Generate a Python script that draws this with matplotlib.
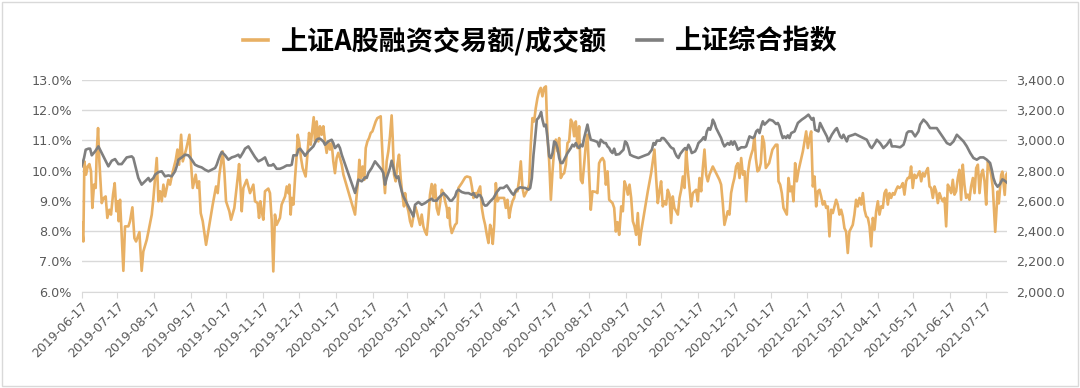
import matplotlib
matplotlib.use("Agg")
import matplotlib.pyplot as plt
import matplotlib.dates as mdates
from matplotlib.font_manager import FontProperties
from matplotlib.patches import Rectangle
from matplotlib.lines import Line2D
from matplotlib.ticker import FuncFormatter, FixedLocator
import pandas as pd

# 数据: 距 2019-06-17 的天数 + 数值
start = pd.Timestamp("2019-06-17")

margin_day = [
    0, 1.5, 2.4, 3.8, 5.2, 6.6, 8.0, 9.1, 10.5, 11.9,
    12.8, 13.9, 15.0, 17.0, 18.7, 20.3, 21.7, 23.4, 24.8, 26.5,
    27.9, 29.3, 30.4, 31.3, 32.4, 33.8, 35.2, 36.6, 39.4, 40.8,
    42.8, 44.5, 45.9, 48.7, 50.6, 52.0, 54.9, 56.3, 59.1, 60.5,
    61.9, 63.3, 64.7, 66.1, 67.5, 68.9, 70.3, 73.1, 74.5, 76.5,
    79.3, 80.7, 82.1, 83.8, 85.2, 88.0, 90.8, 92.2, 93.6, 96.1,
    97.5, 98.9, 100.3, 102.0, 104.8, 107.6, 110.4, 113.2, 114.6, 116.0,
    118.8, 120.2, 121.6, 124.4, 125.8, 128.6, 131.4, 132.6, 134.0, 134.8,
    136.2, 139.0, 141.8, 144.6, 146.0, 148.2, 149.4, 150.5, 151.6, 153.0,
    154.4, 157.2, 158.6, 160.0, 161.4, 162.8, 164.2, 167.0, 168.4, 171.3,
    172.7, 174.1, 174.9, 176.0, 176.9, 178.3, 179.7, 181.1, 181.9, 183.3,
    184.7, 186.1, 188.6, 190.1, 191.5, 192.9, 194.3, 195.4, 196.5, 197.9,
    199.3, 200.7, 202.1, 203.5, 204.9, 206.3, 207.7, 209.1, 210.5, 211.9,
    213.3, 214.7, 216.1, 217.5, 219.0, 220.4, 230.2, 231.6, 233.0, 233.8,
    235.2, 236.6, 238.0, 239.2, 240.6, 242.0, 243.4, 244.8, 247.6, 249.0,
    251.8, 252.6, 254.0, 255.4, 256.8, 258.2, 259.6, 261.0, 261.9, 263.0,
    264.4, 265.8, 267.2, 268.6, 270.0, 271.4, 272.3, 273.7, 275.1, 276.5,
    277.9, 279.3, 280.7, 282.1, 283.5, 284.9, 286.3, 287.7, 289.1, 290.5,
    291.9, 293.3, 294.7, 296.1, 297.5, 298.9, 300.4, 301.8, 303.2, 304.6,
    306.0, 307.4, 308.3, 309.4, 310.2, 311.6, 314.4, 315.8, 317.2, 320.0,
    322.9, 324.3, 327.1, 328.5, 329.9, 331.3, 332.7, 335.5, 336.9, 338.3,
    339.7, 341.1, 342.5, 343.9, 345.3, 346.1, 347.3, 348.7, 350.1, 351.5,
    354.3, 355.7, 357.1, 358.5, 359.9, 361.3, 362.7, 364.1, 365.5, 366.9,
    368.3, 369.7, 371.1, 372.5, 373.9, 375.3, 376.7, 378.1, 379.5, 380.9,
    382.3, 383.7, 385.1, 386.5, 387.9, 389.3, 390.8, 392.2, 393.6, 395.0,
    396.4, 397.8, 399.2, 400.6, 402.0, 403.4, 404.8, 406.2, 407.6, 409.0,
    410.4, 411.8, 413.2, 414.6, 416.0, 417.4, 418.8, 420.2, 421.6, 423.0,
    424.4, 425.8, 427.2, 428.6, 430.0, 432.8, 434.2, 435.6, 437.0, 438.5,
    439.9, 441.3, 442.7, 444.1, 446.9, 448.3, 449.7, 451.1, 452.5, 454.2,
    455.6, 457.0, 458.4, 459.8, 461.2, 462.6, 464.0, 465.4, 466.8, 468.2,
    469.6, 471.0, 473.8, 476.6, 479.4, 482.2, 483.6, 485.0, 486.4, 487.8,
    489.2, 490.6, 492.0, 493.4, 494.8, 496.2, 497.6, 499.0, 501.9, 503.3,
    504.7, 506.1, 507.5, 508.9, 510.3, 511.7, 513.1, 514.5, 517.3, 518.7,
    520.1, 521.5, 522.9, 524.3, 525.7, 527.1, 528.5, 531.3, 534.1, 536.9,
    538.3, 539.7, 541.1, 542.5, 543.9, 545.3, 546.7, 548.1, 549.5, 550.9,
    552.4, 553.8, 555.2, 556.6, 558.0, 559.4, 560.8, 562.2, 563.6, 565.0,
    566.4, 567.5, 568.9, 570.3, 571.7, 573.1, 574.5, 575.9, 578.7, 581.5,
    584.3, 585.7, 586.6, 588.0, 589.4, 590.8, 592.2, 593.6, 595.0, 596.4,
    597.8, 599.2, 600.6, 602.0, 603.4, 607.1, 609.9, 611.3, 612.7, 614.1,
    615.5, 616.9, 618.3, 619.7, 621.1, 622.5, 623.9, 625.3, 626.7, 628.1,
    629.5, 630.9, 632.3, 633.7, 635.1, 636.5, 637.9, 639.3, 640.7, 642.1,
    643.5, 644.9, 646.3, 649.1, 650.5, 651.9, 653.3, 654.8, 656.2, 657.6,
    659.0, 660.4, 661.8, 663.2, 664.6, 666.0, 667.4, 668.8, 670.2, 671.6,
    673.0, 674.4, 675.8, 677.2, 678.6, 680.0, 681.4, 682.8, 684.2, 685.6,
    687.0, 688.4, 689.8, 691.2, 692.6, 694.0, 695.4, 696.8, 698.2, 699.6,
    701.0, 702.5, 703.9, 705.3, 706.7, 708.1, 709.5, 710.9, 712.3, 713.7,
    715.1, 716.5, 717.9, 719.3, 720.7, 722.1, 723.5, 724.9, 726.3, 727.7,
    729.1, 730.5, 731.9, 733.3, 734.7, 736.1, 737.5, 738.9, 740.3, 741.7,
    743.1, 744.5, 745.9, 747.3, 748.7, 750.2, 751.6, 753.0, 754.4, 755.8,
    757.2, 758.6, 760.0, 761.4, 762.8, 764.2, 765.6, 767.0, 769.0, 771.0,
    772.0, 774.0, 775.0, 777.0, 778.0, 779.0,
]
margin_ratio = [
    8.27, 7.66, 10.31, 9.87, 10.14, 10.22, 9.98, 8.77, 9.54, 9.43,
    10.64, 11.41, 10.31, 8.93, 9.10, 9.15, 8.44, 8.71, 8.55, 9.21,
    9.59, 8.66, 8.99, 8.33, 9.04, 7.88, 6.69, 8.16, 8.16, 8.33,
    8.79, 7.77, 7.66, 7.97, 6.69, 7.33, 7.72, 7.99, 8.55, 9.10,
    9.76, 10.42, 8.99, 9.32, 8.99, 9.54, 9.15, 9.70, 9.54, 9.92,
    10.36, 10.70, 10.20, 11.19, 10.31, 10.70, 11.19, 10.20, 9.43, 9.87,
    9.43, 9.65, 8.60, 8.33, 7.55, 8.21, 8.88, 9.48, 9.26, 9.87,
    10.64, 9.98, 8.99, 8.66, 8.38, 8.77, 9.76, 10.22, 9.32, 8.66,
    9.43, 9.70, 9.26, 9.54, 8.99, 8.93, 8.44, 8.99, 8.66, 8.38,
    9.32, 9.41, 9.26, 8.38, 6.67, 8.55, 8.21, 8.44, 8.88, 9.15,
    9.48, 9.26, 9.54, 8.55, 9.10, 8.88, 9.76, 10.53, 11.19, 10.92,
    10.42, 10.09, 9.81, 10.53, 11.25, 10.86, 11.36, 11.77, 10.97, 11.63,
    10.97, 11.47, 11.19, 11.47, 10.97, 10.59, 10.97, 10.70, 10.92, 10.31,
    9.92, 10.42, 10.59, 10.42, 10.20, 9.87, 8.55, 9.21, 9.76, 10.36,
    9.76, 10.14, 9.70, 10.75, 10.97, 11.08, 11.25, 11.30, 11.63, 11.74,
    11.80, 11.08, 9.98, 9.26, 10.31, 10.64, 11.14, 11.83, 11.08, 9.87,
    9.65, 10.20, 10.53, 9.76, 9.21, 8.82, 9.26, 8.88, 8.66, 8.33,
    8.16, 8.49, 8.82, 8.66, 8.44, 8.21, 8.55, 8.16, 7.99, 7.88,
    8.44, 9.21, 9.56, 9.10, 9.54, 8.77, 8.55, 8.93, 9.37, 9.26,
    8.99, 8.77, 8.44, 8.77, 8.21, 7.94, 8.21, 8.27, 9.43, 9.59,
    9.78, 9.81, 9.78, 9.48, 9.10, 9.26, 9.21, 9.48, 8.77, 8.44,
    8.21, 7.88, 7.61, 8.21, 7.99, 7.58, 8.21, 9.59, 8.99, 9.10,
    9.10, 9.10, 8.77, 9.04, 8.44, 8.77, 8.99, 9.10, 9.37, 9.32,
    9.70, 10.31, 9.43, 9.15, 9.26, 9.37, 9.54, 10.86, 11.74, 11.63,
    12.07, 12.40, 12.63, 12.74, 12.46, 12.74, 12.79, 11.08, 10.31, 9.04,
    9.98, 10.70, 11.03, 10.64, 11.08, 9.76, 9.87, 9.92, 10.20, 10.92,
    10.97, 11.69, 11.58, 11.14, 11.63, 10.75, 11.47, 9.70, 9.59, 10.20,
    10.86, 11.19, 9.87, 8.71, 9.32, 9.30, 9.26, 10.25, 10.36, 10.42,
    10.31, 9.54, 9.98, 9.04, 8.93, 8.77, 7.99, 8.30, 7.88, 8.82,
    8.66, 9.65, 9.48, 9.21, 9.54, 9.10, 8.33, 8.16, 7.88, 8.60,
    7.55, 7.99, 8.66, 9.32, 9.92, 10.70, 9.76, 8.93, 9.32, 9.65,
    8.82, 8.99, 8.88, 9.37, 9.21, 8.27, 9.15, 8.77, 8.55, 9.10,
    9.37, 9.81, 9.43, 10.70, 9.98, 9.43, 8.82, 9.26, 9.37, 8.99,
    9.76, 9.32, 10.09, 10.70, 9.87, 9.65, 9.87, 10.14, 9.92, 9.70,
    9.54, 8.93, 8.21, 8.44, 8.66, 8.55, 9.26, 9.54, 9.76, 10.14,
    10.25, 9.76, 10.42, 9.87, 9.98, 8.99, 9.92, 10.31, 10.53, 10.70,
    11.14, 10.42, 9.98, 10.03, 10.25, 11.14, 10.92, 10.09, 10.25, 10.70,
    10.86, 10.86, 9.65, 9.54, 9.26, 8.77, 8.66, 8.55, 9.76, 9.32,
    9.48, 8.99, 10.25, 9.65, 10.00, 10.64, 11.30, 10.75, 11.08, 11.30,
    9.48, 9.81, 8.82, 9.32, 9.37, 9.15, 8.88, 8.99, 8.77, 8.82,
    7.83, 8.71, 8.60, 8.82, 9.04, 8.88, 8.55, 8.71, 8.49, 8.10,
    7.99, 7.28, 7.99, 8.21, 8.55, 9.04, 8.82, 9.10, 8.88, 9.26,
    8.71, 8.49, 8.44, 8.16, 7.50, 8.44, 8.05, 8.66, 8.99, 8.55,
    8.82, 8.77, 9.26, 9.37, 8.88, 9.26, 9.10, 9.26, 9.21, 9.37,
    9.48, 9.43, 9.48, 9.59, 9.21, 9.65, 9.76, 9.76, 10.14, 9.43,
    9.87, 9.76, 9.87, 9.98, 9.65, 9.92, 9.81, 9.98, 10.09, 9.48,
    9.43, 9.10, 9.48, 9.32, 8.93, 9.26, 9.10, 8.99, 9.10, 8.16,
    9.54, 9.43, 9.26, 9.70, 9.21, 9.32, 9.76, 10.03, 9.04, 10.20,
    9.54, 9.10, 9.21, 9.04, 9.48, 9.76, 9.26, 10.09, 10.20, 9.26,
    9.87, 10.03, 9.65, 8.88, 10.31, 10.14, 9.87, 9.43, 7.98, 9.31,
    8.92, 9.86, 9.97, 9.20, 9.86, 9.91,
]

index_day = [
    0, 2.1, 3.5, 5.8, 7.2, 8.6, 11.4, 14.2, 15.6, 18.4,
    21.2, 22.6, 25.4, 28.2, 31.0, 33.8, 36.6, 38.0, 42.2, 43.6,
    45.0, 46.4, 47.8, 49.2, 50.6, 53.4, 56.3, 57.7, 60.5, 61.9,
    64.7, 67.5, 70.3, 73.1, 75.9, 78.7, 80.1, 81.5, 84.3, 87.1,
    89.9, 92.7, 95.5, 98.3, 101.1, 103.9, 106.8, 109.6, 112.4, 113.8,
    115.2, 116.6, 118.0, 120.8, 123.6, 126.4, 129.2, 132.0, 133.4, 136.2,
    137.6, 140.4, 143.3, 146.0, 148.8, 151.6, 154.4, 157.2, 160.0, 161.4,
    164.2, 167.0, 169.8, 172.7, 175.5, 176.9, 178.3, 181.1, 182.5, 183.9,
    186.7, 188.1, 190.9, 193.7, 195.1, 196.5, 197.9, 199.3, 200.7, 203.5,
    204.9, 207.7, 210.5, 211.9, 213.3, 216.1, 217.5, 219.0, 230.2, 231.6,
    233.0, 235.8, 238.6, 240.0, 241.4, 244.2, 247.0, 249.8, 252.6, 254.0,
    255.4, 256.8, 259.6, 261.0, 262.4, 263.8, 265.2, 266.6, 268.1, 269.5,
    270.9, 272.3, 275.1, 276.5, 277.9, 279.3, 280.7, 283.5, 286.3, 289.1,
    291.9, 294.7, 296.1, 298.9, 300.4, 303.2, 304.6, 307.4, 310.2, 311.6,
    314.4, 315.8, 317.2, 320.0, 322.9, 325.7, 328.5, 329.9, 331.3, 332.7,
    334.1, 335.5, 336.9, 338.3, 339.7, 341.1, 343.9, 346.7, 349.5, 352.3,
    355.1, 357.9, 359.3, 362.1, 363.5, 366.3, 369.1, 373.4, 376.2, 377.6,
    379.0, 380.4, 381.8, 383.2, 384.6, 386.0, 386.8, 387.9, 389.3, 390.8,
    392.2, 393.6, 395.0, 396.4, 397.8, 399.2, 400.6, 402.0, 403.4, 404.8,
    406.2, 409.0, 411.8, 413.2, 414.6, 416.0, 417.4, 418.8, 420.2, 421.6,
    423.0, 424.4, 425.8, 427.2, 428.6, 431.4, 434.2, 435.6, 437.0, 439.9,
    441.3, 442.7, 444.1, 445.5, 446.9, 448.3, 449.7, 452.5, 454.7, 456.1,
    457.5, 458.9, 460.3, 461.7, 464.5, 467.3, 468.7, 471.5, 474.4, 477.2,
    478.6, 480.0, 481.4, 482.8, 484.2, 487.0, 488.4, 489.8, 491.2, 492.6,
    494.0, 495.4, 496.8, 498.2, 499.6, 501.0, 502.4, 503.8, 506.6, 508.0,
    509.4, 510.8, 512.2, 513.6, 516.4, 517.8, 519.2, 522.1, 523.5, 524.9,
    526.3, 527.7, 529.1, 530.5, 531.3, 532.7, 534.1, 535.5, 536.9, 538.3,
    539.7, 541.1, 542.5, 543.9, 545.3, 546.7, 548.1, 549.5, 550.9, 552.4,
    555.2, 558.0, 559.4, 560.8, 562.2, 565.0, 566.4, 567.8, 569.2, 570.6,
    572.0, 573.4, 574.8, 576.2, 579.0, 581.8, 584.6, 586.0, 587.4, 588.8,
    590.2, 591.6, 593.0, 594.4, 595.8, 597.3, 600.1, 602.9, 606.2, 609.0,
    611.8, 614.6, 616.0, 617.4, 620.2, 621.6, 624.4, 627.3, 628.7, 631.5,
    634.3, 635.7, 638.5, 639.9, 641.3, 644.1, 645.5, 649.7, 651.1, 655.3,
    658.1, 660.9, 663.7, 665.1, 667.9, 669.3, 672.1, 674.9, 677.8, 680.6,
    682.0, 684.8, 689.0, 691.8, 693.2, 694.6, 696.0, 698.8, 701.6, 704.4,
    705.8, 708.6, 711.4, 714.2, 717.0, 719.8, 722.7, 725.5, 728.3, 731.1,
    733.9, 736.7, 739.5, 742.3, 745.1, 748.0, 750.7, 753.5, 756.3, 759.1,
    761.9, 764.7, 766.1, 767.5, 769.0, 771.0, 773.0, 775.0, 777.0, 779.0,
]
index_close = [
    2829, 2884, 2939, 2946, 2946, 2902, 2928, 2961, 2939, 2895,
    2851, 2829, 2866, 2877, 2844, 2844, 2873, 2888, 2895, 2884,
    2840, 2796, 2752, 2730, 2708, 2730, 2752, 2730, 2752, 2774,
    2791, 2796, 2763, 2769, 2763, 2796, 2829, 2873, 2888, 2906,
    2902, 2873, 2840, 2829, 2822, 2807, 2796, 2807, 2818, 2840,
    2873, 2902, 2924, 2902, 2873, 2888, 2895, 2906, 2888, 2924,
    2946, 2961, 2924, 2890, 2862, 2873, 2888, 2835, 2835, 2844,
    2813, 2813, 2822, 2835, 2835, 2840, 2902, 2902, 2939, 2946,
    2917, 2899, 2928, 2950, 2961, 2983, 3005, 3012, 3012, 2994,
    2972, 2994, 3005, 2983, 2950, 2972, 2950, 2906, 2653, 2697,
    2741, 2730, 2756, 2752, 2785, 2818, 2862, 2835, 2807, 2785,
    2708, 2752, 2818, 2866, 2822, 2774, 2752, 2763, 2708, 2664,
    2630, 2608, 2564, 2542, 2520, 2498, 2575, 2593, 2575, 2586,
    2602, 2615, 2602, 2602, 2619, 2641, 2652, 2630, 2602, 2602,
    2630, 2664, 2675, 2659, 2652, 2652, 2641, 2652, 2630, 2624,
    2641, 2637, 2619, 2580, 2569, 2571, 2597, 2619, 2659, 2686,
    2686, 2703, 2686, 2652, 2641, 2675, 2690, 2686, 2675, 2686,
    2752, 2906, 3016, 3138, 3149, 3171, 3188, 3138, 3094, 3105,
    3016, 2895, 2884, 2917, 2994, 2983, 2950, 2884, 2851, 2851,
    2873, 2917, 2950, 2972, 2961, 2983, 2961, 2950, 2972, 2961,
    3016, 3060, 3105, 3049, 3005, 2999, 2990, 2961, 3005, 2983,
    2983, 2961, 2950, 2928, 2917, 2946, 2906, 2910, 2928, 2939,
    2994, 2983, 2950, 2906, 2895, 2888, 2884, 2893, 2902, 2910,
    2924, 2939, 2983, 2972, 2999, 2999, 3016, 3016, 3005, 2990,
    2977, 2961, 2950, 2946, 2917, 2895, 2884, 2910, 2939, 2950,
    2939, 2972, 2950, 2917, 2928, 2950, 2983, 3005, 3021, 3005,
    3060, 3082, 3071, 3105, 3138, 3116, 3082, 3060, 3038, 3016,
    2983, 2961, 2972, 2983, 2972, 2994, 2972, 2994, 2972, 2939,
    2955, 2955, 2961, 2994, 3027, 3016, 3027, 3060, 3071, 3049,
    3094, 3127, 3105, 3116, 3138, 3131, 3109, 3116, 3094, 3049,
    3016, 3027, 3016, 3034, 3016, 3049, 3060, 3116, 3138, 3153,
    3171, 3138, 3149, 3071, 3060, 3116, 3071, 3027, 2994, 3038,
    3071, 3082, 3027, 3016, 3038, 2994, 3027, 3038, 3043, 3027,
    3016, 3005, 2961, 2950, 2983, 3005, 2983, 2950, 2972, 3005,
    2961, 2961, 2955, 2972, 3005, 3049, 3060, 3060, 3027, 3060,
    3105, 3138, 3116, 3082, 3082, 3082, 3049, 3016, 2983, 2972,
    2994, 3038, 3016, 2994, 2961, 2917, 2884, 2873, 2888, 2888,
    2873, 2851, 2807, 2752, 2717, 2694, 2712, 2743, 2734, 2721,
]

label_margin = "上证A股融资交易额/成交额"
label_index = "上证综合指数"
color_margin = "#E8B064"
color_index = "#7F7F7F"

margin_dates = start + pd.to_timedelta(margin_day, unit="D")
index_dates = start + pd.to_timedelta(index_day, unit="D")
tick_dates = pd.date_range("2019-06-01", "2021-07-01", freq="MS") + pd.Timedelta(days=16)

fig = plt.figure(figsize=(10.8, 3.88), dpi=100)
ax = fig.add_axes([0.0755, 0.2482, 0.857, 0.5456])
ax2 = ax.twinx()

ax.plot(margin_dates, margin_ratio, color=color_margin, lw=1.9, solid_joinstyle="round")
ax2.plot(index_dates, index_close, color=color_index, lw=1.9, solid_joinstyle="round")

ax.set_xlim(start, start + pd.Timedelta(days=779))
ax.set_ylim(6, 13)
ax2.set_ylim(2000, 3400)
ax.set_yticks([6, 7, 8, 9, 10, 11, 12, 13])
ax2.set_yticks(range(2000, 3401, 200))
ax.yaxis.set_major_formatter(FuncFormatter(lambda v, p: f"{v:.1f}%"))
ax2.yaxis.set_major_formatter(FuncFormatter(lambda v, p: f"{v:,.1f}"))

ax.xaxis.set_major_locator(FixedLocator(mdates.date2num(tick_dates)))
ax.xaxis.set_major_formatter(mdates.DateFormatter("%Y-%m-%d"))

grid_c = "#D9D9D9"
txt_c = "#595959"
ax.grid(axis="y", color=grid_c, lw=1)
ax.set_axisbelow(True)
for a in (ax, ax2):
    for s in ("top", "left", "right"):
        a.spines[s].set_visible(False)
    a.spines["bottom"].set_color(grid_c)
ax2.spines["bottom"].set_visible(False)

ax.tick_params(axis="y", length=0, pad=7, labelsize=9.2, labelcolor=txt_c)
ax2.tick_params(axis="y", length=0, pad=6.5, labelsize=9.2, labelcolor=txt_c)
ax.tick_params(axis="x", length=4, color=grid_c, labelsize=9, labelcolor=txt_c, pad=2)
for lab in ax.get_xticklabels():
    lab.set_rotation(45)
    lab.set_ha("right")
    lab.set_va("top")
    lab.set_rotation_mode("anchor")

# 图例做标题
handles = [Line2D([], [], color=color_margin, lw=2.6), Line2D([], [], color=color_index, lw=2.6)]
fp = FontProperties(family=["Noto Sans CJK SC", "DejaVu Sans"], weight="bold", size=19.5)
fig.legend(handles, [label_margin, label_index], loc="center", bbox_to_anchor=(0.5, 1 - 41 / 388),
           ncol=2, frameon=False, prop=fp, handlelength=0.95, handletextpad=0.45, columnspacing=1.1)

fig.patches.append(Rectangle((0.002, 0.004), 0.996, 0.992, transform=fig.transFigure,
                             fill=False, edgecolor=grid_c, lw=1))

fig.savefig("out.png", dpi=100)
